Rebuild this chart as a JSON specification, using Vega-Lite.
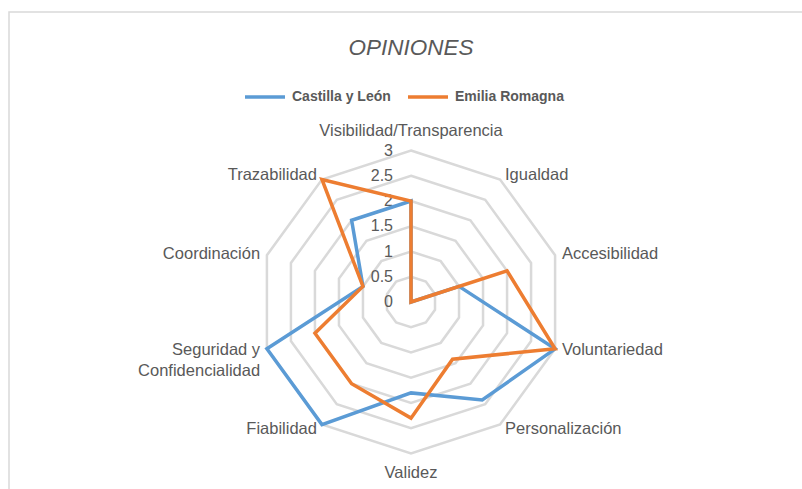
{
  "$schema": "https://vega.github.io/schema/vega-lite/v6.json",
  "width": 804,
  "height": 489,
  "autosize": {"type": "none"},
  "padding": {"left": 9, "top": 12, "right": 0, "bottom": 0},
  "background": "white",
  "config": {
    "view": {"stroke": "#D9D9D9", "strokeWidth": 1.5},
    "font": "Liberation Sans",
    "text": {"font": "Liberation Sans", "fontSize": 16.5, "color": "#595959"}
  },
  "title": {
    "text": "OPINIONES",
    "fontStyle": "italic",
    "fontWeight": "normal",
    "fontSize": 22.5,
    "color": "#595959",
    "anchor": "middle",
    "offset": -47,
    "font": "Liberation Sans"
  },
  "datasets": {
    "cats": [
      {"cat": "Visibilidad/Transparencia", "i": 0},
      {"cat": "Igualdad", "i": 1},
      {"cat": "Accesibilidad", "i": 2},
      {"cat": "Voluntariedad", "i": 3},
      {"cat": "Personalización", "i": 4},
      {"cat": "Validez", "i": 5},
      {"cat": "Fiabilidad", "i": 6},
      {"cat": "Seguridad y\nConfidencialidad", "i": 7},
      {"cat": "Coordinación", "i": 8},
      {"cat": "Trazabilidad", "i": 9}
    ],
    "series": [
      {"serie": "Castilla y León", "cat": "Visibilidad/Transparencia", "v": 2},
      {"serie": "Castilla y León", "cat": "Igualdad", "v": 0},
      {"serie": "Castilla y León", "cat": "Accesibilidad", "v": 1},
      {"serie": "Castilla y León", "cat": "Voluntariedad", "v": 3},
      {"serie": "Castilla y León", "cat": "Personalización", "v": 2.4},
      {"serie": "Castilla y León", "cat": "Validez", "v": 1.8},
      {"serie": "Castilla y León", "cat": "Fiabilidad", "v": 3},
      {"serie": "Castilla y León", "cat": "Seguridad y\nConfidencialidad", "v": 3},
      {"serie": "Castilla y León", "cat": "Coordinación", "v": 1},
      {"serie": "Castilla y León", "cat": "Trazabilidad", "v": 2},
      {"serie": "Emilia Romagna", "cat": "Visibilidad/Transparencia", "v": 2},
      {"serie": "Emilia Romagna", "cat": "Igualdad", "v": 0},
      {"serie": "Emilia Romagna", "cat": "Accesibilidad", "v": 2},
      {"serie": "Emilia Romagna", "cat": "Voluntariedad", "v": 3},
      {"serie": "Emilia Romagna", "cat": "Personalización", "v": 1.4},
      {"serie": "Emilia Romagna", "cat": "Validez", "v": 2.3},
      {"serie": "Emilia Romagna", "cat": "Fiabilidad", "v": 2},
      {"serie": "Emilia Romagna", "cat": "Seguridad y\nConfidencialidad", "v": 2},
      {"serie": "Emilia Romagna", "cat": "Coordinación", "v": 1},
      {"serie": "Emilia Romagna", "cat": "Trazabilidad", "v": 3}
    ],
    "grid": [
      {"level": 0.5, "i": [0, 1, 2, 3, 4, 5, 6, 7, 8, 9]},
      {"level": 1, "i": [0, 1, 2, 3, 4, 5, 6, 7, 8, 9]},
      {"level": 1.5, "i": [0, 1, 2, 3, 4, 5, 6, 7, 8, 9]},
      {"level": 2, "i": [0, 1, 2, 3, 4, 5, 6, 7, 8, 9]},
      {"level": 2.5, "i": [0, 1, 2, 3, 4, 5, 6, 7, 8, 9]},
      {"level": 3, "i": [0, 1, 2, 3, 4, 5, 6, 7, 8, 9]}
    ],
    "ticks": [
      {"t": 0, "label": "0"},
      {"t": 0.5, "label": "0.5"},
      {"t": 1, "label": "1"},
      {"t": 1.5, "label": "1.5"},
      {"t": 2, "label": "2"},
      {"t": 2.5, "label": "2.5"},
      {"t": 3, "label": "3"}
    ]
  },
  "encoding": {
    "x": {"field": "px", "type": "quantitative", "scale": {"domain": [-7.96, 7.96], "nice": false, "zero": false}, "axis": null},
    "y": {"field": "py", "type": "quantitative", "scale": {"domain": [-3.941, 5.743], "nice": false, "zero": false}, "axis": null}
  },
  "layer": [
    {
      "data": {"name": "grid"},
      "transform": [
        {"flatten": ["i"]},
        {"calculate": "datum.i * PI / 5", "as": "theta"},
        {"calculate": "sin(datum.theta) * datum.level", "as": "px"},
        {"calculate": "cos(datum.theta) * datum.level", "as": "py"}
      ],
      "mark": {"type": "line", "interpolate": "linear-closed", "color": "#D9D9D9", "strokeWidth": 2.5},
      "encoding": {
        "detail": {"field": "level", "type": "nominal"},
        "order": {"field": "i", "type": "quantitative"}
      }
    },
    {
      "data": {"name": "ticks"},
      "transform": [
        {"calculate": "0", "as": "px"},
        {"calculate": "datum.t", "as": "py"}
      ],
      "mark": {"type": "text", "align": "right", "baseline": "middle", "dx": -18, "fontSize": 16},
      "encoding": {"text": {"field": "label", "type": "nominal"}}
    },
    {
      "data": {"name": "series"},
      "transform": [
        {"lookup": "cat", "from": {"data": {"name": "cats"}, "key": "cat", "fields": ["i"]}},
        {"calculate": "datum.i * PI / 5", "as": "theta"},
        {"calculate": "sin(datum.theta) * datum.v", "as": "px"},
        {"calculate": "cos(datum.theta) * datum.v", "as": "py"}
      ],
      "mark": {"type": "line", "interpolate": "linear-closed", "strokeWidth": 3.5},
      "encoding": {
        "color": {
          "field": "serie",
          "type": "nominal",
          "scale": {"domain": ["Castilla y León", "Emilia Romagna"], "range": ["#5B9BD5", "#ED7D31"]},
          "legend": {
            "title": null,
            "orient": "none",
            "legendX": 234,
            "legendY": 63,
            "direction": "horizontal",
            "symbolType": "stroke",
            "symbolSize": 1600,
            "symbolStrokeWidth": 3.5,
            "labelFont": "Liberation Sans",
            "labelFontWeight": "bold",
            "labelFontSize": 14,
            "labelColor": "#595959",
            "labelOffset": 5,
            "columnSpacing": 32,
            "padding": 0
          }
        },
        "order": {"field": "i", "type": "quantitative"}
      }
    },
    {
      "data": {"name": "cats"},
      "transform": [
        {"filter": "datum.i == 0"},
        {"calculate": "0", "as": "px"},
        {"calculate": "3.1", "as": "py"}
      ],
      "mark": {"type": "text", "align": "center", "baseline": "middle", "dy": -14},
      "encoding": {"text": {"field": "cat", "type": "nominal"}}
    },
    {
      "data": {"name": "cats"},
      "transform": [
        {"filter": "datum.i == 5"},
        {"calculate": "0", "as": "px"},
        {"calculate": "-3.1", "as": "py"}
      ],
      "mark": {"type": "text", "align": "center", "baseline": "middle", "dy": 14},
      "encoding": {"text": {"field": "cat", "type": "nominal"}}
    },
    {
      "data": {"name": "cats"},
      "transform": [
        {"filter": "datum.i >= 1 && datum.i <= 4"},
        {"calculate": "sin(datum.i * PI / 5) * 3.1", "as": "px"},
        {"calculate": "cos(datum.i * PI / 5) * 3.1", "as": "py"}
      ],
      "mark": {"type": "text", "align": "left", "baseline": "middle", "dx": 2},
      "encoding": {"text": {"field": "cat", "type": "nominal"}}
    },
    {
      "data": {"name": "cats"},
      "transform": [
        {"filter": "datum.i >= 6"},
        {"calculate": "sin(datum.i * PI / 5) * 3.1", "as": "px"},
        {"calculate": "cos(datum.i * PI / 5) * 3.1", "as": "py"}
      ],
      "mark": {"type": "text", "align": "right", "baseline": "middle", "dx": -2, "lineBreak": "\n", "lineHeight": 21},
      "encoding": {"text": {"field": "cat", "type": "nominal"}}
    }
  ]
}
